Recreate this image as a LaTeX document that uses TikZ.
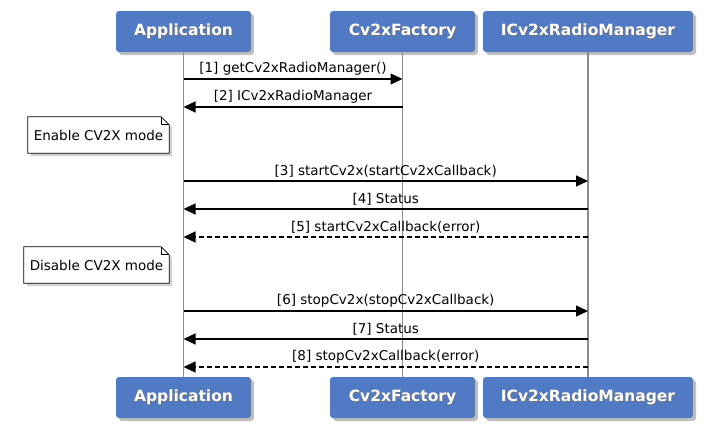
\documentclass[tikz,border=0pt]{standalone}
\usepackage{fontspec}
\setmainfont{DejaVu Sans}
\usetikzlibrary{arrows.meta,shadows}
\definecolor{partblue}{RGB}{80,122,196}

\newcommand{\shadowtext}[1]{\rlap{\hspace{1pt}\raisebox{-1pt}{\color{black!55}#1}}#1}

\begin{document}
\begin{tikzpicture}[
  x=1pt,y=-1pt,
  pnode/.style={fill=partblue,rounded corners=3pt,minimum height=41pt,inner sep=0pt,
    text=white,font=\fontsize{15.5}{17}\selectfont\bfseries,
    drop shadow={shadow xshift=3pt,shadow yshift=-3pt,opacity=0.5}},
  life/.style={draw=black!45,line width=1.3pt},
  msg/.style={draw=black,line width=1.2pt,-{Triangle[length=12pt,width=11pt]}},
  ret/.style={msg,dash pattern=on 5pt off 3pt},
  lbl/.style={font=\fontsize{13.5}{15}\selectfont,inner sep=1pt,above=2pt},
  nbox/.style={inner sep=0pt,minimum height=36pt},
  ntext/.style={font=\fontsize{13.5}{15}\selectfont,inner sep=0pt}
]
  \useasboundingbox (0,0) rectangle (705,426);

  % participants
  \node[pnode,minimum width=135pt] (app) at (183.5,31.5) {\shadowtext{Application}};
  \node[pnode,minimum width=145pt] (fac) at (402.5,31.5) {\shadowtext{Cv2xFactory}};
  \node[pnode,minimum width=210pt] (mgr) at (588,31.5) {\shadowtext{ICv2xRadioManager}};
  \node[pnode,minimum width=135pt] (app2) at (183.5,397.5) {\shadowtext{Application}};
  \node[pnode,minimum width=145pt] (fac2) at (402.5,397.5) {\shadowtext{Cv2xFactory}};
  \node[pnode,minimum width=210pt] (mgr2) at (588,397.5) {\shadowtext{ICv2xRadioManager}};

  % lifelines
  \draw[life] (app.south) -- (app2.north);
  \draw[life] (fac.south) -- (fac2.north);
  \draw[life] (mgr.south) -- (mgr2.north);

  % notes
  \node[nbox,minimum width=141pt] (n1) at (98.5,135) {};
  \node[nbox,minimum width=145pt] (n2) at (96.5,265) {};
  \foreach \n/\t in {n1/Enable CV2X mode,n2/Disable CV2X mode} {
    \draw[fill=white,line width=0.8pt,drop shadow={shadow xshift=3pt,shadow yshift=-3pt,opacity=0.35}]
      (\n.north west) -- ([xshift=-8pt]\n.north east) -- ([yshift=-8pt]\n.north east)
      -- (\n.south east) -- (\n.south west) -- cycle;
    \draw[line width=0.8pt] ([xshift=-8pt]\n.north east) -- ([xshift=-8pt,yshift=-8pt]\n.north east)
      -- ([yshift=-8pt]\n.north east);
    \node[ntext] at (\n) {\t};
  }

  % messages
  \draw[msg] (app |- 0,79) -- node[lbl] {[1] getCv2xRadioManager()} (fac |- 0,79);
  \draw[msg] (fac |- 0,107) -- node[lbl] {[2] ICv2xRadioManager} (app |- 0,107);
  \draw[msg] (app |- 0,181) -- node[lbl] {[3] startCv2x(startCv2xCallback)} (mgr |- 0,181);
  \draw[msg] (mgr |- 0,209) -- node[lbl] {[4] Status} (app |- 0,209);
  \draw[ret] (mgr |- 0,237) -- node[lbl] {[5] startCv2xCallback(error)} (app |- 0,237);
  \draw[msg] (app |- 0,311) -- node[lbl] {[6] stopCv2x(stopCv2xCallback)} (mgr |- 0,311);
  \draw[msg] (mgr |- 0,339) -- node[lbl] {[7] Status} (app |- 0,339);
  \draw[ret] (mgr |- 0,367) -- node[lbl] {[8] stopCv2xCallback(error)} (app |- 0,367);

\end{tikzpicture}
\end{document}
